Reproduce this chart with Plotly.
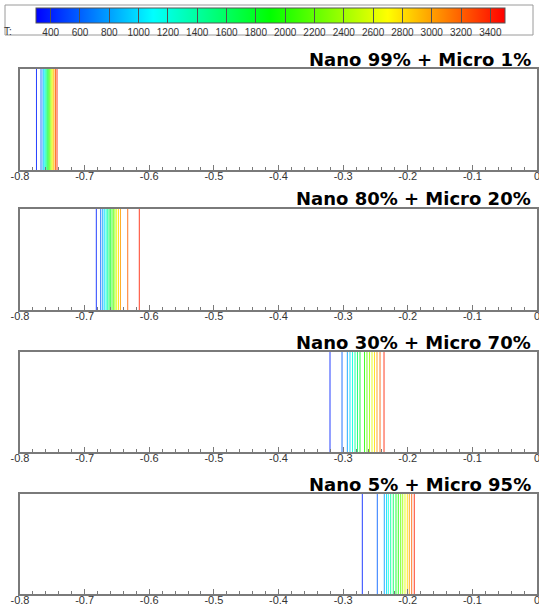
import plotly.graph_objects as go
from plotly.colors import sample_colorscale

W, H = 539, 607

# ---------------- data ----------------
levels = [400, 600, 800, 1000, 1200, 1400, 1600, 1800,
          2000, 2200, 2400, 2600, 2800, 3000, 3200, 3400]
level_labels = [str(v) for v in levels]

panel_titles = ["Nano 99% + Micro 1%", "Nano 80% + Micro 20%",
                "Nano 30% + Micro 70%", "Nano 5% + Micro 95%"]

# x position of each isotherm (one per level) in every panel
pos_nano99 = [-0.7745, -0.7675, -0.7644, -0.7629, -0.7613, -0.7598, -0.7582, -0.7567,
              -0.7551, -0.7536, -0.7520, -0.7505, -0.7489, -0.7474, -0.7450, -0.7427]
pos_nano80 = [-0.6819, -0.6751, -0.6720, -0.6696, -0.6669, -0.6649, -0.6623, -0.6603,
              -0.6576, -0.6550, -0.6530, -0.6504, -0.6476, -0.6445, -0.6333, -0.6154]
pos_nano30 = [-0.3203, -0.3017, -0.2935, -0.2894, -0.2855, -0.2816, -0.2778, -0.2739,
              -0.2669, -0.2631, -0.2592, -0.2553, -0.2515, -0.2476, -0.2429, -0.2367]
pos_nano5 = [-0.2703, -0.2471, -0.2363, -0.2329, -0.2301, -0.2264, -0.2224, -0.2182,
             -0.2146, -0.2109, -0.2078, -0.2043, -0.2007, -0.1976, -0.1939, -0.1899]
panel_positions = [pos_nano99, pos_nano80, pos_nano30, pos_nano5]

x_tick_vals = [-0.8, -0.7, -0.6, -0.5, -0.4, -0.3, -0.2, -0.1, 0.0]
x_tick_text = ["-0.8", "-0.7", "-0.6", "-0.5", "-0.4", "-0.3", "-0.2", "-0.1", "0"]

T_MIN, T_MAX = 300, 3500
colorscale = [[0.0, "rgb(0,0,255)"], [0.25, "rgb(0,255,255)"], [0.5, "rgb(0,255,0)"],
              [0.75, "rgb(255,255,0)"], [1.0, "rgb(255,0,0)"]]

# ---------------- layout geometry (pixels) ----------------
X0, X1 = 20, 537
panel_px = [(69, 170), (209, 310), (352, 452), (494, 594)]
LINE_C = "#7a7a7a"
TEXT_C = "#333333"

fig = go.Figure()

for i, pos in enumerate(panel_positions):
    n = i + 1
    xa = "x" if n == 1 else f"x{n}"
    ya = "y" if n == 1 else f"y{n}"
    for T, xv in zip(levels, pos):
        c = sample_colorscale(colorscale, [(T - T_MIN) / (T_MAX - T_MIN)])[0]
        fig.add_trace(go.Scatter(x=[xv, xv], y=[0, 1], mode="lines",
                                 line=dict(color=c, width=1), opacity=0.85,
                                 xaxis=xa, yaxis=ya, showlegend=False,
                                 hoverinfo="skip"))

# carrier trace for the colour bar
fig.add_trace(go.Scatter(
    x=pos_nano99, y=[0.5] * len(levels), mode="markers", xaxis="x", yaxis="y",
    showlegend=False, hoverinfo="skip",
    marker=dict(size=1, opacity=0, color=levels, colorscale=colorscale,
                cmin=T_MIN, cmax=T_MAX, showscale=True,
                colorbar=dict(orientation="h", thickness=15, thicknessmode="pixels",
                              len=(505 - 36) / W, lenmode="fraction",
                              x=(36 + 505) / 2 / W, xanchor="center",
                              y=1 - 8 / H, yanchor="top", xpad=0, ypad=0,
                              outlinecolor="#555555", outlinewidth=1,
                              tickmode="array", tickvals=levels, ticktext=level_labels,
                              ticks="inside", ticklen=15, tickwidth=1, tickcolor="#505050",
                              tickfont=dict(family="Liberation Sans", size=10, color=TEXT_C),
                              borderwidth=0, bgcolor="rgba(0,0,0,0)"))))

layout = dict(width=W, height=H, margin=dict(l=0, r=0, t=0, b=0, autoexpand=False),
              paper_bgcolor="white", plot_bgcolor="white", showlegend=False)

annotations = []
for i, (top, bot) in enumerate(panel_px):
    n = i + 1
    sx = "" if n == 1 else str(n)
    dom = [1 - bot / H, 1 - top / H]
    layout[f"xaxis{sx}"] = dict(
        domain=[X0 / W, X1 / W], anchor=f"y{sx}", range=[-0.8, 0],
        tickmode="array", tickvals=x_tick_vals, ticktext=x_tick_text,
        ticks="inside", ticklen=5, tickwidth=1, tickcolor=LINE_C,
        minor=dict(tick0=-0.8, dtick=0.02, ticks="inside", ticklen=3,
                   tickwidth=1, tickcolor=LINE_C),
        ticklabelstandoff=-5, ticklabeloverflow="allow",
        showline=True, linecolor=LINE_C, linewidth=1.5, mirror=True,
        showgrid=False, zeroline=False, fixedrange=True,
        tickfont=dict(family="Liberation Sans", size=11, color=TEXT_C))
    layout[f"yaxis{sx}"] = dict(
        domain=dom, anchor=f"x{sx}", range=[0, 1], showticklabels=False,
        ticks="", showline=True, linecolor=LINE_C, linewidth=1.5, mirror=True,
        showgrid=False, zeroline=False, fixedrange=True)
    annotations.append(dict(
        text=f"<b>{panel_titles[i]}</b>", xref="paper", yref="paper",
        x=533 / W, xanchor="right", y=1 - (top - 10) / H, yanchor="middle",
        showarrow=False, font=dict(family="DejaVu Sans", size=18, color="black")))

annotations.append(dict(text="T:", xref="paper", yref="paper", x=2 / W, xanchor="left",
                        y=1 - 31 / H, yanchor="middle", showarrow=False,
                        font=dict(family="Liberation Sans", size=10, color=TEXT_C)))
layout["annotations"] = annotations
layout["shapes"] = [dict(type="rect", xref="paper", yref="paper",
                         x0=5 / W, x1=533 / W, y0=1 - 35 / H, y1=1 - 5 / H,
                         line=dict(color="#9a9a9a", width=1), fillcolor="rgba(0,0,0,0)")]

fig.update_layout(**layout)
fig.write_html("out.html", config={"displayModeBar": False},
               post_script="document.body.style.margin='0px';")
